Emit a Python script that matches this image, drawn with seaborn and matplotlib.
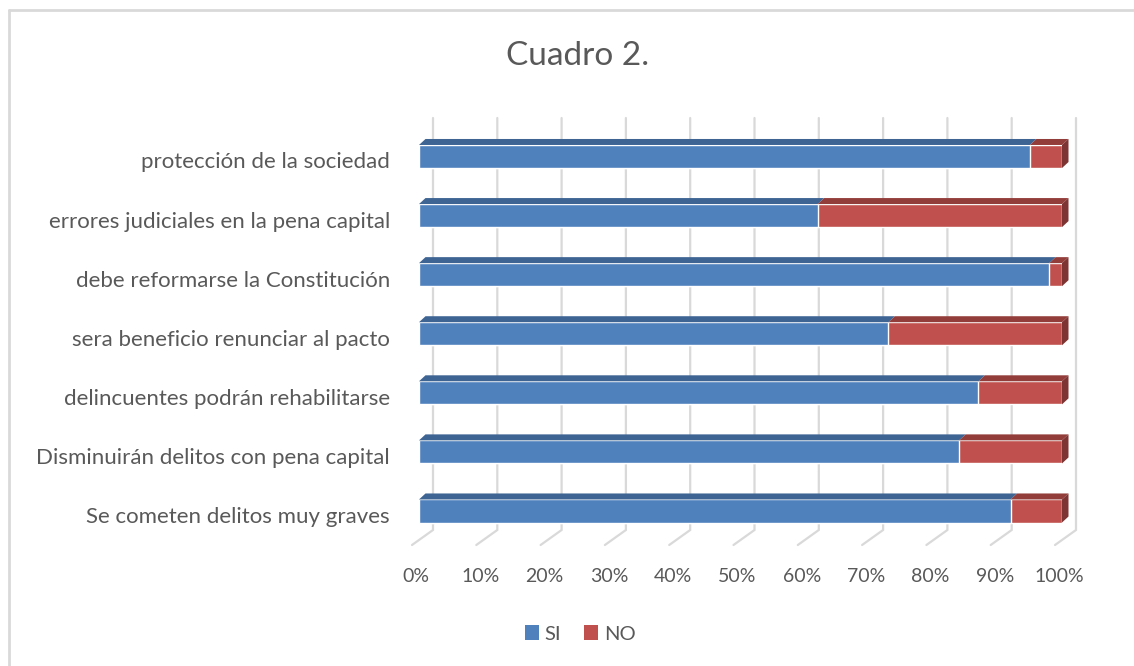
import numpy as np
import pandas as pd
import matplotlib
matplotlib.use("Agg")
import matplotlib.pyplot as plt
import matplotlib.transforms as mtransforms
from matplotlib.patches import Polygon
from matplotlib.lines import Line2D
import seaborn as sns

# ---- data -------------------------------------------------------------
preguntas = [
    "protección de la sociedad",
    "errores judiciales en la pena capital",
    "debe reformarse la Constitución",
    "sera beneficio renunciar al pacto",
    "delincuentes podrán rehabilitarse",
    "Disminuirán delitos con pena capital",
    "Se cometen delitos muy graves",
]
si = [95, 62, 98, 73, 87, 84, 92]
no = [5, 38, 2, 27, 13, 16, 8]
ticks = [0, 10, 20, 30, 40, 50, 60, 70, 80, 90, 100]
tick_labels = [f"{t}%" for t in ticks]
series = ["SI", "NO"]
title = "Cuadro 2."

# ---- style ------------------------------------------------------------
sns.set_theme(style="white")
plt.rcParams["font.family"] = ["Lato", "DejaVu Sans"]

TEXT = "#595959"
GRID = "#D9D9D9"
FRONT = {"SI": "#4F81BD", "NO": "#C0504D"}
TOP = {"SI": "#3D6493", "NO": "#933D3A"}
SIDE = {"SI": "#355987", "NO": "#7E3432"}

W, H = 1134, 666
fig = plt.figure(figsize=(W / 100, H / 100), dpi=100)
fig.patch.set_facecolor("white")

# plot area (front faces of the bars)
x_left, x_right = 419, 1062
y_top, y_bot = 118, 545
ax = fig.add_axes([x_left / W, 1 - y_bot / H, (x_right - x_left) / W, (y_bot - y_top) / H])

df = pd.DataFrame({"pregunta": preguntas, "SI": si, "NO": no})
df["total"] = df["SI"] + df["NO"]

bar_w = 0.39
sns.barplot(data=df, x="total", y="pregunta", color=FRONT["NO"], saturation=1,
            width=bar_w, ax=ax, zorder=3)
sns.barplot(data=df, x="SI", y="pregunta", color=FRONT["SI"], saturation=1,
            width=bar_w, ax=ax, zorder=3)

# first row centre at 156.5 px, rows 59.08 px apart
row_px = 59.08
first_px = 156.5
ax.set_xlim(0, 100)
ax.set_ylim((y_bot - first_px) / row_px, (y_top - first_px) / row_px)
ax.set_xticks([])
ax.set_yticks([])
ax.set_xlabel("")
ax.set_ylabel("")
for s in ax.spines.values():
    s.set_visible(False)
ax.patch.set_alpha(0)

fig.canvas.draw()


def to_px(xd, yd):
    d = ax.transData.transform((xd, yd))
    return d[0], H - d[1]


def from_px(xp, yp):
    return ax.transData.inverted().transform((xp, H - yp))


# depth of the bars (right / up) in pixels
ddx, ddy = 6.5, 6.0
# depth of the back wall relative to bar fronts
wall_dx, wall_bottom, floor_front = 14, 530, 545

# back wall grid + floor lines
for t in ticks:
    xf, _ = to_px(t, 0)
    xb = xf + wall_dx
    pts = [from_px(xb, y_top), from_px(xb, wall_bottom), from_px(xb - 21, floor_front)]
    pts = np.array(pts)
    ax.add_line(Line2D(pts[:, 0], pts[:, 1], color=GRID, lw=1.6, zorder=1,
                       clip_on=False, solid_joinstyle="miter"))

# 3D top and side faces of the stacked bars
for i, (s_val, n_val) in enumerate(zip(si, no)):
    segs = [("SI", 0, s_val), ("NO", s_val, s_val + n_val)]
    y0 = i - bar_w / 2
    y1 = i + bar_w / 2
    for name, a, b in segs:
        if b - a <= 0:
            continue
        xa, ya = to_px(a, y0)
        xb_, _ = to_px(b, y0)
        top = [(xa, ya), (xb_, ya), (xb_ + ddx, ya - ddy), (xa + ddx, ya - ddy)]
        ax.add_patch(Polygon([from_px(*p) for p in top], closed=True,
                             facecolor=TOP[name], edgecolor="none", zorder=4, clip_on=False))
    # right side of the last segment
    xe, ya = to_px(100, y0)
    _, yb = to_px(100, y1)
    side = [(xe, ya), (xe + ddx, ya - ddy), (xe + ddx, yb - ddy), (xe, yb)]
    ax.add_patch(Polygon([from_px(*p) for p in side], closed=True,
                         facecolor=SIDE["NO"], edgecolor="none", zorder=4, clip_on=False))

# category labels
cat_fs = 16
lab_tr = mtransforms.offset_copy(ax.transData, fig=fig, x=-29, y=-6, units="dots")
for i, p in enumerate(preguntas):
    ax.text(0, i, p, transform=lab_tr, ha="right", va="center",
            fontsize=cat_fs, color=TEXT)

# percentage labels
tick_fs = 14
y_lab = from_px(0, 577)[1]
tick_tr = mtransforms.offset_copy(ax.transData, fig=fig, x=-3, y=0, units="dots")
for t, lab in zip(ticks, tick_labels):
    ax.text(t, y_lab, lab, transform=tick_tr, ha="center", va="center",
            fontsize=tick_fs, color=TEXT, clip_on=False)

# title
fig.text(578 / W, 1 - 56 / H, title, ha="center", va="center",
         fontsize=24, color=TEXT)

# legend
handles = [plt.Rectangle((0, 0), 1, 1, facecolor=FRONT[s], edgecolor="none") for s in series]
fig.legend(handles, series, loc="center", bbox_to_anchor=(580 / W, 1 - 634 / H),
           ncol=2, frameon=False, fontsize=14.5, handlelength=0.7, handleheight=0.7,
           handletextpad=0.3, columnspacing=1.1, labelcolor=TEXT)

# chart border (top and left edges)
fig.add_artist(Line2D([9 / W, 1], [1 - 10 / H, 1 - 10 / H], color=GRID, lw=2,
                      transform=fig.transFigure))
fig.add_artist(Line2D([9 / W, 9 / W], [0, 1 - 10 / H], color=GRID, lw=2,
                      transform=fig.transFigure))

fig.savefig("out.png", dpi=100)
